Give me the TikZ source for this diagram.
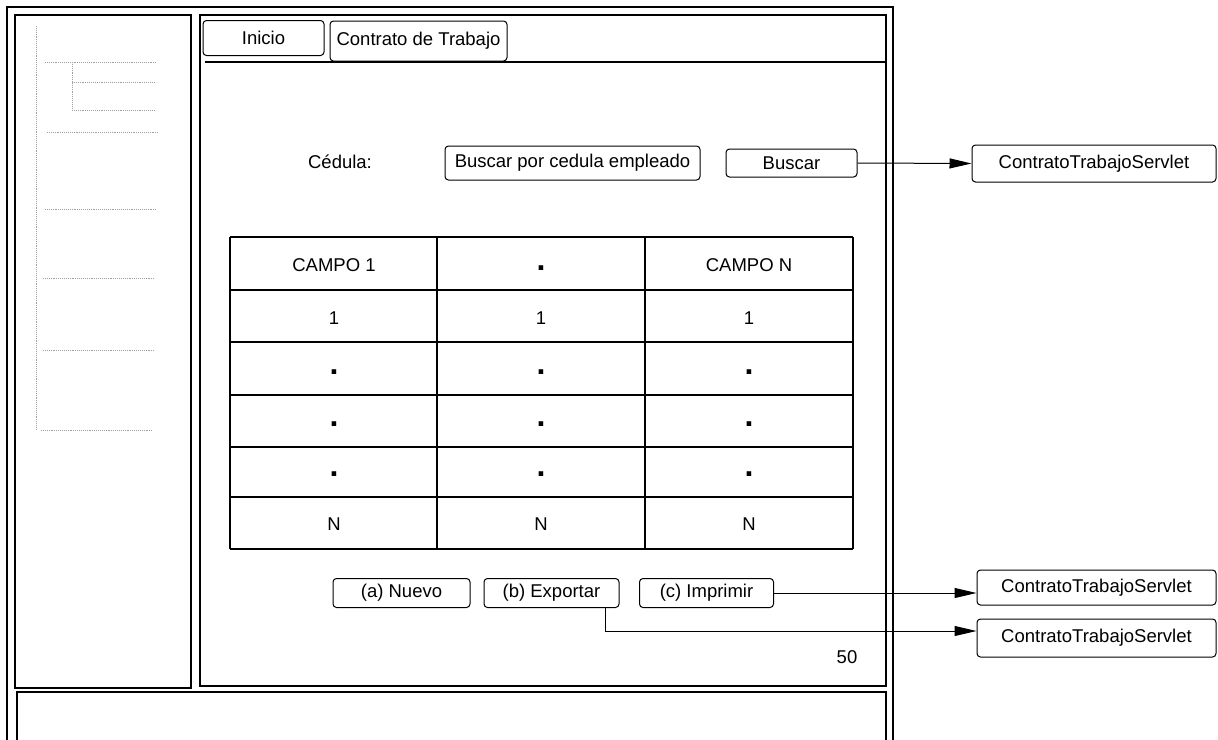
\documentclass[tikz,border=0pt]{standalone}
\usepackage{fontspec}
\setmainfont{Liberation Sans}
\usetikzlibrary{arrows.meta,calc}

\tikzset{
  frm/.style={draw, line width=1.3pt},
  btn/.style={draw, line width=1pt, rounded corners=3.5pt, inner sep=0pt},
  treeln/.style={gray!75, line width=0.9pt, densely dotted},
  arr/.style={line width=1pt, -{Triangle[length=22pt,width=10pt]}},
  cell/.style={inner sep=0pt},
  dot/.style={inner sep=0pt, font=\fontsize{32}{32}\selectfont\bfseries},
}

\begin{document}
\begin{tikzpicture}[x=1pt, y=-1pt, font=\fontsize{18.5}{22}\selectfont]
  \useasboundingbox (0,0) rectangle (1218,739);

  % --- window frames ---
  \draw[frm] (7,750) -- (7,7) -- (893,7) -- (893,750);
  \draw[frm] (15,15) rectangle (191,688);
  \draw[frm] (200,15) rectangle (886,686);
  \draw[frm] (17,750) -- (17,692) -- (886,692) -- (886,750);
  \draw[frm] (205,62) -- (886,62);

  % --- menu tree (left panel) ---
  \draw[treeln] (36,26) -- (36,430);
  \draw[treeln] (45,62) -- (157,62);
  \draw[treeln] (72,62) -- (72,110);
  \draw[treeln] (72,82) -- (155,82);
  \draw[treeln] (72,110) -- (155,110);
  \draw[treeln] (47,132) -- (159,132);
  \draw[treeln] (45,209) -- (157,209);
  \draw[treeln] (43,278) -- (155,278);
  \draw[treeln] (43,350) -- (155,350);
  \draw[treeln] (41,430) -- (153,430);

  % --- tabs ---
  \node[btn, minimum width=121pt, minimum height=35pt] (inicio) at (263.5,38) {Inicio};
  \node[btn, minimum width=177pt, minimum height=40pt] (contrato) at (418.5,41) {Contrato de Trabajo};

  % --- search row ---
  \node[cell] (cedula) at (340,162) {Cédula:};
  \node[btn, minimum width=255pt, minimum height=34pt] (campo) at (572.5,163) {Buscar por cedula empleado};
  \node[btn, minimum width=131pt, minimum height=28pt] (buscar) at (791.5,163) {Buscar};
  \node[btn, minimum width=244pt, minimum height=37pt] (srv1) at (1094,163.5) {ContratoTrabajoServlet};

  % --- result table ---
  \foreach \y in {237,290,342,395,447,497,549}
    \draw[line width=1.2pt] (230,\y) -- (853,\y);
  \foreach \x in {230,437,645,853}
    \draw[line width=1.2pt] (\x,237) -- (\x,549);

  \node[cell] (h1) at (334,265) {CAMPO 1};
  \node[dot]  (h2) at (541,268) {.};
  \node[cell] (h3) at (749,265) {CAMPO N};
  \foreach \c/\x in {a/334,b/541,c/749}{
    \node[cell] (r1\c) at (\x,318) {1};
    \node[dot]  (r2\c) at (\x,372) {.};
    \node[dot]  (r3\c) at (\x,424) {.};
    \node[dot]  (r4\c) at (\x,474) {.};
    \node[cell] (rn\c) at (\x,524) {N};
  }

  % --- action buttons ---
  \node[btn, minimum width=137pt, minimum height=29pt] (nuevo) at (401.5,593) {(a) Nuevo};
  \node[btn, minimum width=135pt, minimum height=29pt] (exportar) at (551.5,593) {(b) Exportar};
  \node[btn, minimum width=134pt, minimum height=29pt] (imprimir) at (706.5,593) {(c) Imprimir};
  \node[cell] (pag) at (847,657) {50};

  % --- servlet targets ---
  \node[btn, minimum width=239pt, minimum height=35pt] (srv2) at (1096.5,587.5) {ContratoTrabajoServlet};
  \node[btn, minimum width=239pt, minimum height=38pt] (srv3) at (1096.5,638) {ContratoTrabajoServlet};

  % --- calls ---
  \draw[arr] (buscar.east) -- (srv1.west);
  \draw[arr] (imprimir.east) -- (imprimir.east -| srv2.west);
  \draw[arr] ([xshift=-14pt]exportar.south east) |- ([yshift=7pt]srv3.west);
\end{tikzpicture}
\end{document}
